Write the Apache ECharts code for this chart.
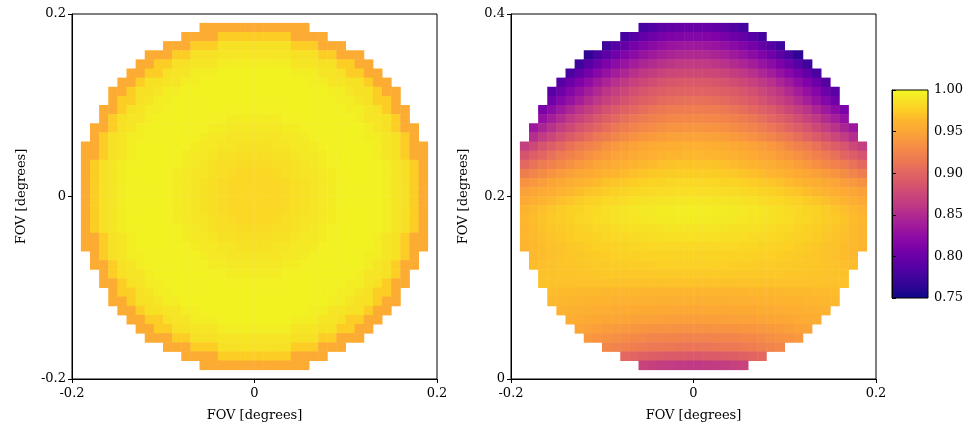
<!DOCTYPE html>
<html><head><meta charset="utf-8">
<script src="https://cdn.jsdelivr.net/npm/echarts@6/dist/echarts.min.js"></script>
<style>html,body{margin:0;padding:0;background:#fff}#c{width:973px;height:427px}</style>
</head><body><div id="c"></div><script>
// Tick values
const leftXTicks = [-0.2, 0, 0.2];
const leftYTicks = [-0.2, 0, 0.2];
const rightXTicks = [-0.2, 0, 0.2];
const rightYTicks = [0, 0.2, 0.4];
const colorbarTicks = [0.75, 0.80, 0.85, 0.90, 0.95, 1.00];
const axisTitle = 'FOV [degrees]';
const cellsPerSide = 40;

// Throughput, in thousandths, rows from top to bottom,
// each row lists the cells inside the circular field of view (row is centred).
const leftRows = [
[955,955,955,955,955,955,955,955,955,955,955,955],
[955,955,955,955,975,975,975,975,975,975,975,975,955,955,955,955],
[955,955,955,975,975,975,987,987,987,987,987,987,987,987,975,975,975,955,955,955],
[955,955,955,975,975,987,987,987,989,989,989,989,989,989,989,989,987,987,987,975,975,955,955,955],
[955,955,975,975,987,987,989,989,989,994,994,994,994,994,994,994,994,989,989,989,987,987,975,975,955,955],
[955,955,975,975,987,989,989,994,994,994,996,996,996,996,996,996,996,996,994,994,994,989,989,987,975,975,955,955],
[955,955,975,987,987,989,989,994,994,996,996,996,996,996,996,996,996,996,996,996,996,994,994,989,989,987,987,975,955,955],
[955,955,975,987,987,989,994,994,996,996,996,996,996,996,996,996,996,996,996,996,996,996,996,996,994,994,989,987,987,975,955,955],
[955,975,975,987,989,994,994,996,996,996,996,996,996,996,996,996,996,996,996,996,996,996,996,996,996,994,994,989,987,975,975,955],
[955,955,975,987,989,994,994,996,996,996,996,996,996,996,995,995,995,995,995,995,996,996,996,996,996,996,996,994,994,989,987,975,955,955],
[955,975,987,989,989,994,996,996,996,996,996,996,995,995,993,993,993,993,993,993,995,995,996,996,996,996,996,996,994,989,989,987,975,955],
[955,955,975,987,989,994,996,996,996,996,996,995,995,993,993,991,991,991,991,991,991,993,993,995,995,996,996,996,996,996,994,989,987,975,955,955],
[955,975,987,989,994,994,996,996,996,996,995,995,993,991,991,989,989,989,989,989,989,991,991,993,995,995,996,996,996,996,994,994,989,987,975,955],
[955,955,975,987,989,994,996,996,996,996,996,995,993,991,991,989,989,987,987,987,987,989,989,991,991,993,995,996,996,996,996,996,994,989,987,975,955,955],
[955,955,975,987,989,994,996,996,996,996,995,993,991,991,989,987,987,985,985,985,985,987,987,989,991,991,993,995,996,996,996,996,994,989,987,975,955,955],
[955,975,987,989,994,996,996,996,996,996,995,993,991,989,987,985,985,983,983,983,983,985,985,987,989,991,993,995,996,996,996,996,996,994,989,987,975,955],
[955,975,987,989,994,996,996,996,996,995,993,991,989,989,987,985,983,981,981,981,981,983,985,987,989,989,991,993,995,996,996,996,996,994,989,987,975,955],
[955,975,987,989,994,996,996,996,996,995,993,991,989,987,985,983,981,981,981,981,981,981,983,985,987,989,991,993,995,996,996,996,996,994,989,987,975,955],
[955,975,987,989,994,996,996,996,996,995,993,991,989,987,985,983,981,981,981,981,981,981,983,985,987,989,991,993,995,996,996,996,996,994,989,987,975,955],
[955,975,987,989,994,996,996,996,996,995,993,991,989,987,985,983,981,981,981,981,981,981,983,985,987,989,991,993,995,996,996,996,996,994,989,987,975,955],
[955,975,987,989,994,996,996,996,996,995,993,991,989,987,985,983,981,981,981,981,981,981,983,985,987,989,991,993,995,996,996,996,996,994,989,987,975,955],
[955,975,987,989,994,996,996,996,996,995,993,991,989,989,987,985,983,981,981,981,981,983,985,987,989,989,991,993,995,996,996,996,996,994,989,987,975,955],
[955,975,987,989,994,996,996,996,996,996,995,993,991,989,987,985,985,983,983,983,983,985,985,987,989,991,993,995,996,996,996,996,996,994,989,987,975,955],
[955,955,975,987,989,994,996,996,996,996,995,993,991,991,989,987,987,985,985,985,985,987,987,989,991,991,993,995,996,996,996,996,994,989,987,975,955,955],
[955,955,975,987,989,994,996,996,996,996,996,995,993,991,991,989,989,987,987,987,987,989,989,991,991,993,995,996,996,996,996,996,994,989,987,975,955,955],
[955,975,987,989,994,994,996,996,996,996,995,995,993,991,991,989,989,989,989,989,989,991,991,993,995,995,996,996,996,996,994,994,989,987,975,955],
[955,955,975,987,989,994,996,996,996,996,996,995,995,993,993,991,991,991,991,991,991,993,993,995,995,996,996,996,996,996,994,989,987,975,955,955],
[955,975,987,989,989,994,996,996,996,996,996,996,995,995,993,993,993,993,993,993,995,995,996,996,996,996,996,996,994,989,989,987,975,955],
[955,955,975,987,989,994,994,996,996,996,996,996,996,996,995,995,995,995,995,995,996,996,996,996,996,996,996,994,994,989,987,975,955,955],
[955,975,975,987,989,994,994,996,996,996,996,996,996,996,996,996,996,996,996,996,996,996,996,996,996,994,994,989,987,975,975,955],
[955,955,975,987,987,989,994,994,996,996,996,996,996,996,996,996,996,996,996,996,996,996,996,996,994,994,989,987,987,975,955,955],
[955,955,975,987,987,989,989,994,994,996,996,996,996,996,996,996,996,996,996,996,996,994,994,989,989,987,987,975,955,955],
[955,955,975,975,987,989,989,994,994,994,996,996,996,996,996,996,996,996,994,994,994,989,989,987,975,975,955,955],
[955,955,975,975,987,987,989,989,989,994,994,994,994,994,994,994,994,989,989,989,987,987,975,975,955,955],
[955,955,955,975,975,987,987,987,989,989,989,989,989,989,989,989,987,987,987,975,975,955,955,955],
[955,955,955,975,975,975,987,987,987,987,987,987,987,987,975,975,975,955,955,955],
[955,955,955,955,975,975,975,975,975,975,975,975,955,955,955,955],
[955,955,955,955,955,955,955,955,955,955,955,955]
];

const rightRows = [
[778,785,791,795,798,800,800,798,795,791,785,778],
[778,787,796,803,808,813,815,817,817,815,813,808,803,796,787,778],
[775,787,797,807,815,821,827,831,833,835,835,833,831,827,821,815,807,797,787,775],
[766,780,792,804,814,822,830,836,841,845,848,849,849,848,845,841,836,830,822,814,804,792,780,766],
[774,788,800,812,822,831,839,846,851,856,859,862,863,863,862,859,856,851,846,839,831,822,812,800,788,774],
[780,794,807,819,829,839,847,855,861,866,871,874,876,877,877,876,874,871,866,861,855,847,839,829,819,807,794,780],
[787,801,813,825,836,846,855,862,869,875,880,884,887,889,890,890,889,887,884,880,875,869,862,855,846,836,825,813,801,787],
[790,803,816,828,839,849,859,867,874,881,886,891,894,897,899,900,900,899,897,894,891,886,881,874,867,859,849,839,828,816,803,790],
[803,817,829,840,851,861,869,877,884,890,896,900,904,906,908,909,909,908,906,904,900,896,890,884,877,869,861,851,840,829,817,803],
[810,823,835,846,857,866,875,883,890,897,902,907,911,914,917,918,919,919,918,917,914,911,907,902,897,890,883,875,866,857,846,835,823,810],
[828,840,851,862,871,880,888,896,902,908,913,918,922,925,927,928,929,929,928,927,925,922,918,913,908,902,896,888,880,871,862,851,840,828],
[834,845,856,867,876,885,893,901,907,913,919,924,928,931,934,936,937,938,938,937,936,934,931,928,924,919,913,907,901,893,885,876,867,856,845,834],
[853,864,874,883,892,900,907,914,920,926,931,935,939,942,944,946,947,948,948,947,946,944,942,939,935,931,926,920,914,907,900,892,883,874,864,853],
[867,876,886,894,902,910,917,923,929,935,940,944,948,951,954,956,957,958,959,959,958,957,956,954,951,948,944,940,935,929,923,917,910,902,894,886,876,867],
[885,894,901,909,916,922,928,934,939,943,947,951,954,957,959,961,963,963,964,964,963,963,961,959,957,954,951,947,943,939,934,928,922,916,909,901,894,885],
[903,910,917,923,929,934,940,944,949,952,956,959,962,964,966,968,969,970,970,970,970,969,968,966,964,962,959,956,952,949,944,940,934,929,923,917,910,903],
[920,926,931,937,941,946,950,954,957,961,963,966,968,970,972,973,974,975,975,975,975,974,973,972,970,968,966,963,961,957,954,950,946,941,937,931,926,920],
[935,940,944,949,953,956,960,963,966,969,971,973,975,977,978,979,980,981,981,981,981,980,979,978,977,975,973,971,969,966,963,960,956,953,949,944,940,935],
[946,950,954,957,961,964,967,970,972,975,977,979,980,982,983,984,984,985,985,985,985,984,984,983,982,980,979,977,975,972,970,967,964,961,957,954,950,946],
[954,958,961,965,968,971,974,976,978,981,982,984,986,987,988,989,989,990,990,990,990,989,989,988,987,986,984,982,981,978,976,974,971,968,965,961,958,954],
[961,965,968,971,974,977,979,981,983,985,987,989,990,991,992,993,993,994,994,994,994,993,993,992,991,990,989,987,985,983,981,979,977,974,971,968,965,961],
[964,967,970,973,975,977,980,982,984,985,987,988,989,990,991,992,992,993,993,993,993,992,992,991,990,989,988,987,985,984,982,980,977,975,973,970,967,964],
[963,966,969,971,973,975,977,979,981,982,984,985,986,987,987,988,989,989,989,989,989,989,988,987,987,986,985,984,982,981,979,977,975,973,971,969,966,963],
[964,966,968,970,972,974,976,977,979,980,981,982,983,984,985,985,986,986,986,986,986,986,985,985,984,983,982,981,980,979,977,976,974,972,970,968,966,964],
[963,965,967,969,970,972,973,975,976,977,978,979,980,980,981,981,982,982,982,982,982,982,981,981,980,980,979,978,977,976,975,973,972,970,969,967,965,963],
[965,967,968,970,971,972,973,974,975,976,976,977,978,978,978,979,979,979,979,979,979,978,978,978,977,976,976,975,974,973,972,971,970,968,967,965],
[967,968,969,970,971,971,972,973,973,974,974,975,975,975,976,976,976,976,976,976,976,976,975,975,975,974,974,973,973,972,971,971,970,969,968,967],
[969,969,970,970,971,971,971,972,972,972,972,972,973,973,973,973,973,973,973,973,973,973,972,972,972,972,972,971,971,971,970,970,969,969],
[969,969,969,969,969,969,969,969,969,969,969,969,969,969,969,969,969,969,969,969,969,969,969,969,969,969,969,969,969,969,969,969,969,969],
[967,966,966,965,965,965,964,964,964,964,963,963,963,963,963,963,963,963,963,963,963,963,964,964,964,964,965,965,965,966,966,967],
[965,964,963,963,962,961,961,960,960,959,959,959,958,958,958,958,958,958,958,958,959,959,959,960,960,961,961,962,963,963,964,965],
[961,960,959,958,957,956,955,955,954,953,953,953,952,952,952,952,952,952,953,953,953,954,955,955,956,957,958,959,960,961],
[957,955,954,952,951,950,949,948,947,946,946,945,945,945,945,945,945,946,946,947,948,949,950,951,952,954,955,957],
[949,947,945,943,942,940,939,938,937,936,936,935,935,935,935,936,936,937,938,939,940,942,943,945,947,949],
[940,937,935,933,931,929,928,926,926,925,924,924,924,924,925,926,926,928,929,931,933,935,937,940],
[927,924,922,919,917,915,914,913,912,912,912,912,913,914,915,917,919,922,924,927],
[903,900,897,895,893,891,891,890,890,891,891,893,895,897,900,903],
[871,868,866,864,863,862,862,863,864,866,868,871]
];

// matplotlib "plasma" colour stops, 0 -> 1
const plasma = ['#0d0887','#2a0593','#41049d','#5601a4','#6a00a8','#7e03a8','#8f0da4','#a11b9b','#b12a90','#c03a83','#cc4778','#d8576b','#e16462','#eb7655','#f2844b','#f89540','#fca636','#fdb42f','#fcce25','#f7e225','#f0f921'];

function buildCells(rows) {
  const out = [];
  const offY = (cellsPerSide - rows.length) / 2;
  rows.forEach((row, r) => {
    const y = cellsPerSide - 1 - offY - r;
    const start = (cellsPerSide - row.length) / 2;
    row.forEach((v, k) => out.push([start + k, y, v / 1000]));
  });
  return out;
}
const cats = Array.from({length: cellsPerSide}, (_, i) => i);

const font = 'DejaVu Serif';
const txt = '#000';
function valAxis(grid, pos, min, max, interval, ticks, nameGap, margin) {
  return {
    gridIndex: grid, type: 'value', position: pos, min: min, max: max, interval: interval,
    name: axisTitle, nameLocation: 'middle', nameGap: nameGap,
    nameTextStyle: {fontFamily: font, fontSize: 13, color: txt},
    axisLine: {show: true, onZero: false, lineStyle: {color: '#000', width: 1}},
    axisTick: {show: true, inside: false, length: 4, lineStyle: {color: '#000'}},
    axisLabel: {fontFamily: font, fontSize: 13, color: txt, margin: margin,
      formatter: v => { const t = ticks.find(x => Math.abs(x - v) < 1e-9); return t === undefined ? '' : String(t); }},
    splitLine: {show: false}
  };
}
function catAxis(grid, pos) {
  return {gridIndex: grid, type: 'category', position: pos, data: cats, show: false, boundaryGap: true};
}

const gridBox = {show: true, borderColor: '#000', borderWidth: 1, backgroundColor: 'transparent', containLabel: false};
const chart = echarts.init(document.getElementById('c'), null, {renderer: 'canvas'});
chart.setOption({
  animation: false,
  textStyle: {fontFamily: font},
  grid: [
    Object.assign({left: 72, top: 14, width: 365, height: 365}, gridBox),
    Object.assign({left: 511, top: 14, width: 365, height: 365}, gridBox),
    {show: true, left: 892, top: 90, width: 36, height: 208, borderColor: '#000', borderWidth: 1,
     backgroundColor: new echarts.graphic.LinearGradient(0, 0, 0, 1,
       plasma.slice().reverse().map((c, i, a) => ({offset: i / (a.length - 1), color: c})))}
  ],
  xAxis: [
    catAxis(0, 'top'), valAxis(0, 'bottom', -0.2, 0.2, 0.2, leftXTicks, 30, 8),
    catAxis(1, 'top'), valAxis(1, 'bottom', -0.2, 0.2, 0.2, rightXTicks, 30, 8),
    {gridIndex: 2, type: 'value', min: 0, max: 1, show: false}
  ],
  yAxis: [
    catAxis(0, 'right'), valAxis(0, 'left', -0.2, 0.2, 0.2, leftYTicks, 44, 6),
    catAxis(1, 'right'), valAxis(1, 'left', 0, 0.4, 0.2, rightYTicks, 41, 6),
    {gridIndex: 2, type: 'value', position: 'right', min: 0.75, max: 1.0, interval: 0.05,
     axisLine: {show: true, lineStyle: {color: '#000'}},
     axisTick: {show: true, inside: false, length: 4, lineStyle: {color: '#000'}},
     axisLabel: {fontFamily: font, fontSize: 13, color: txt, margin: 6,
       formatter: v => { const t = colorbarTicks.find(x => Math.abs(x - v) < 1e-9); return t === undefined ? '' : t.toFixed(2); }},
     splitLine: {show: false}}
  ],
  visualMap: {type: 'continuous', min: 0.75, max: 1.0, show: false, dimension: 2,
    seriesIndex: [0, 1], inRange: {color: plasma}},
  series: [
    {type: 'heatmap', xAxisIndex: 0, yAxisIndex: 0, data: buildCells(leftRows), emphasis: {disabled: true}, progressive: 0},
    {type: 'heatmap', xAxisIndex: 2, yAxisIndex: 2, data: buildCells(rightRows), emphasis: {disabled: true}, progressive: 0}
  ]
});
</script></body></html>
